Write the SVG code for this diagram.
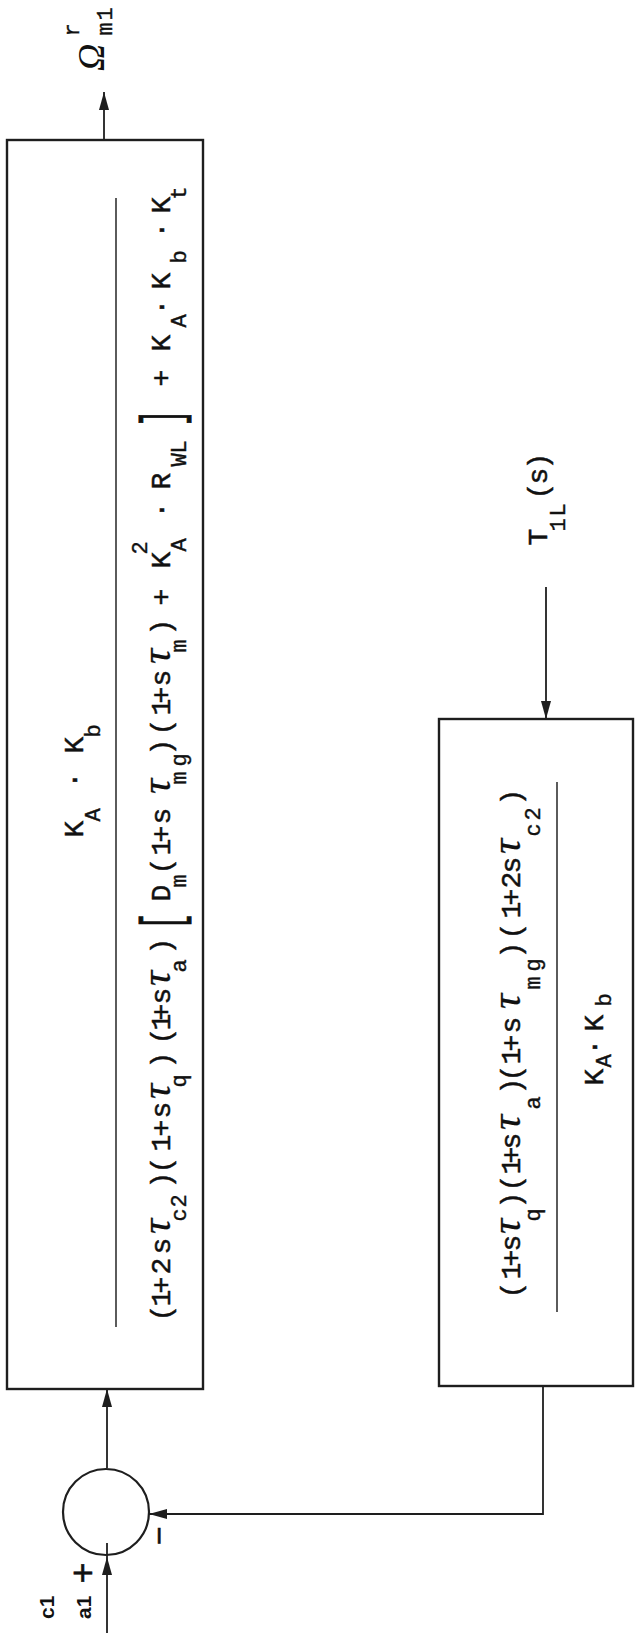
<svg xmlns="http://www.w3.org/2000/svg" width="635" height="1633" viewBox="0 0 635 1633">
<style>
.box{fill:none;stroke:#1e1e1e;stroke-width:2.4}
.ln{fill:none;stroke:#1e1e1e;stroke-width:1.8}
.frac{stroke:#333;stroke-width:1.6}
.m{font-family:"Liberation Mono","DejaVu Sans Mono",monospace;font-size:28px;fill:#111;stroke:#111;stroke-width:0.5}
.s{font-family:"Liberation Mono","DejaVu Sans Mono",monospace;font-size:22px;fill:#111;stroke:#111;stroke-width:0.4}
.tau{font-family:"Liberation Serif","Times New Roman",serif;font-style:italic;font-size:42px;fill:#111;stroke:#111;stroke-width:0.3}
.lab{font-family:"Liberation Sans",Arial,sans-serif;font-size:21px;font-weight:bold;fill:#111}
.om{font-family:"Liberation Serif","Times New Roman",serif;font-style:italic;font-size:38px;fill:#111}
</style>
<defs>
<marker id="ah" viewBox="0 0 18 10" refX="18" refY="5" markerWidth="18" markerHeight="10" orient="auto" markerUnits="userSpaceOnUse">
<path d="M0,0 L18,5 L0,10 z" fill="#1e1e1e"/>
</marker>
</defs>
<rect width="635" height="1633" fill="#ffffff"/>

<g id="connectors">
<line class="ln" x1="104" y1="140" x2="104" y2="92" marker-end="url(#ah)"/>
<line class="ln" x1="107" y1="1633" x2="107" y2="1557" marker-end="url(#ah)"/>
<line class="ln" x1="107" y1="1557" x2="107" y2="1543"/>
<line class="ln" x1="107" y1="1468" x2="107" y2="1389" marker-end="url(#ah)"/>
<line class="ln" x1="546" y1="587" x2="546" y2="719" marker-end="url(#ah)"/>
<polyline class="ln" points="543,1386 543,1514 149,1514" marker-end="url(#ah)"/>
</g>

<g id="forward-block">
<rect class="box" x="7" y="140" width="196" height="1249"/>
<line class="frac" x1="116" y1="198" x2="116" y2="1327"/>
<g transform="translate(0,1633) rotate(-90)">
<text class="m" x="795.6 844.6 879.6" y="83">K·K</text>
<text class="s" x="811.4 895.4" y="100">Ab</text>
<text class="m" y="170" x="311.6 326.6 339.6 358.6 378.6 444.6 459.6 481.6 496.6 514.6 564.6 588.6 602.6 612.6 628.6 678.6 731.6 758.6 777.6 790.6 808.6 877.6 897.6 917.6 929.6 946.6 997.6 1027.6 1064.6 1114.6 1143.6 1246.6 1281.6 1317.6 1343.6 1394.6 1419.6">(1+2s)(1+s)(1+s)D(1+s)(1+s)+K·R+K·K·K</text>
<text class="tau" y="170" x="399 534 647 839 969">τττττ</text>
<text class="s" y="186" x="411.4 425.4 545.4 660.4 745.4 848.4 866.4 980.4 1081.4 1166.4 1179.4 1305.4 1369.4 1433.4">c2qammgmAWLAbt</text>
<text class="s" x="1078.4" y="147">2</text>
<text class="m" transform="translate(703.6,179) scale(1,2)" x="0" y="0">[</text>
<text class="m" transform="translate(1206.6,179) scale(1,2)" x="0" y="0">]</text>
</g>
</g>

<g id="feedback-block">
<rect class="box" x="439" y="719" width="194" height="667"/>
<line class="frac" x1="557" y1="782" x2="557" y2="1312"/>
<g transform="translate(0,1633) rotate(-90)">
<text class="m" y="520" x="334.6 353.6 366.6 381.6 424.6 441.6 458.6 469.6 483.6 538.6 551.6 568.6 581.6 599.6 674.6 693.6 714.6 727.6 744.6 759.6 827.6">(1+s)(1+s)(1+s)(1+2s)</text>
<text class="tau" y="520" x="399 503 624 779">ττττ</text>
<text class="s" y="540" x="411.4 523.4 643.4 661.4 796.4 812.4">qamgc2</text>
<text class="m" y="603" x="547.6 577.6 601.6">K·K</text>
<text class="s" y="611" x="565.4 626.4">Ab</text>
</g>
</g>

<g id="summing-junction">
<circle cx="106" cy="1512" r="43" fill="none" stroke="#1e1e1e" stroke-width="2.2"/>
<g transform="translate(0,1633) rotate(-90)">
<text class="m" style="font-size:36px" x="49.2" y="94.5">+</text>
<text class="m" style="font-size:32px" x="87.4" y="170">−</text>
</g>
</g>

<g id="input-label">
<g transform="translate(0,1633) rotate(-90)">
<text class="lab" x="14" y="91">a1</text>
<text class="lab" x="14" y="54">c1</text>
</g>
</g>

<g id="disturbance-label">
<g transform="translate(0,1633) rotate(-90)">
<text class="m" y="547" x="1087.6 1133.6 1148.6 1163.6">T(s)</text>
<text class="s" y="565" x="1101.4 1116.4">1L</text>
</g>
</g>

<g id="output-label">
<g transform="translate(0,1633) rotate(-90)">
<text class="om" x="1562" y="104">Ω</text>
<text class="s" x="1596.4" y="79">r</text>
<text class="s" y="112" x="1597.4 1612.4">m1</text>
</g>
</g>
</svg>
